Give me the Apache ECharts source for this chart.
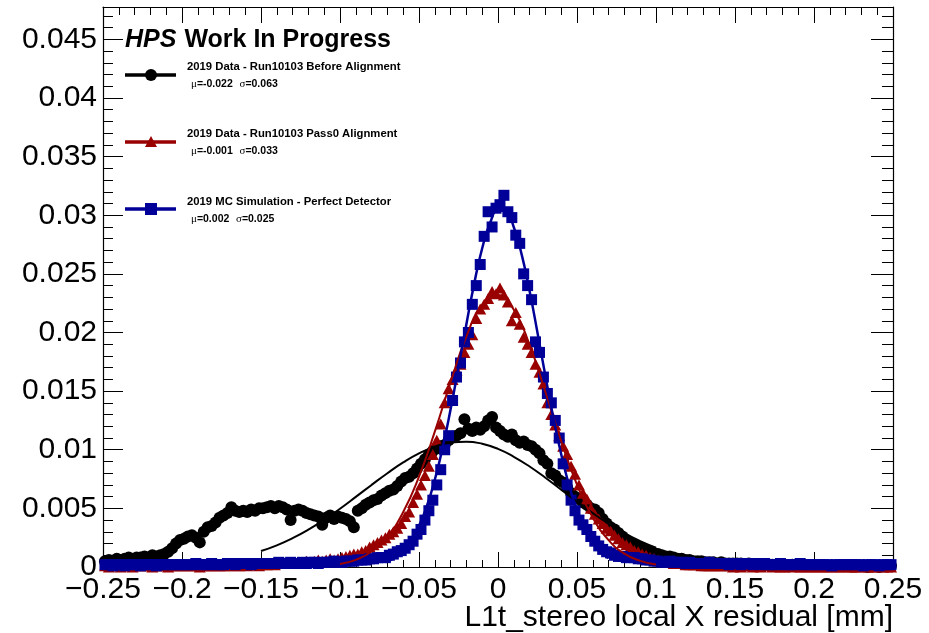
<!DOCTYPE html>
<html>
<head>
<meta charset="utf-8">
<title>L1t_stereo local X residual</title>
<script src="https://cdn.jsdelivr.net/npm/echarts@6/dist/echarts.min.js"></script>
<style>
  html, body { margin: 0; padding: 0; background: #fff; }
  #chart { width: 929px; height: 633px; }
</style>
</head>
<body>
<div id="chart"></div>
<script>
// Histogram binning: 200 bins over [-0.25, 0.25] mm
const X_MIN = -0.25;
const X_MAX = 0.25;
const BIN_WIDTH = 0.0025;

// Normalised residual distributions, one value per bin
const beforeAlignment = [
  0.0005, 0.0006, 0.0005, 0.0007, 0.0006, 0.0007, 0.0008, 0.0007, 0.0008, 0.0008,
  0.0009, 0.0008, 0.0010, 0.0009, 0.0010, 0.0011, 0.0013, 0.0016, 0.0020, 0.0023,
  0.0024, 0.0026, 0.0027, 0.0025, 0.0021, 0.0030, 0.0034, 0.0035, 0.0038, 0.0042,
  0.0044, 0.0046, 0.0051, 0.0048, 0.0047, 0.0048, 0.0047, 0.0049, 0.0048, 0.0050,
  0.0050, 0.0051, 0.0052, 0.0050, 0.0052, 0.0051, 0.0049, 0.0040, 0.0048, 0.0049,
  0.0048, 0.0046, 0.0045, 0.0044, 0.0043, 0.0036, 0.0042, 0.0044, 0.0041, 0.0043,
  0.0042, 0.0041, 0.0039, 0.0034, 0.0048, 0.0050, 0.0053, 0.0055, 0.0057, 0.0058,
  0.0061, 0.0063, 0.0065, 0.0066, 0.0069, 0.0073, 0.0076, 0.0077, 0.0080, 0.0084,
  0.0088, 0.0092, 0.0096, 0.0099, 0.0101, 0.0103, 0.0104, 0.0108, 0.0111, 0.0112,
  0.0114, 0.0126, 0.0118, 0.0116, 0.0119, 0.0117, 0.0120, 0.0125, 0.0128, 0.0119,
  0.0116, 0.0113, 0.0111, 0.0113, 0.0108, 0.0106, 0.0107, 0.0104, 0.0103, 0.0100,
  0.0097, 0.0091, 0.0088, 0.0080, 0.0078, 0.0074, 0.0072, 0.0068, 0.0063, 0.0060,
  0.0058, 0.0055, 0.0053, 0.0050, 0.0049, 0.0046, 0.0041, 0.0037, 0.0034, 0.0032,
  0.0029, 0.0026, 0.0023, 0.0021, 0.0019, 0.0017, 0.0016, 0.0014, 0.0013, 0.0012,
  0.0011, 0.0010, 0.0009, 0.0009, 0.0008, 0.0007, 0.0007, 0.0006, 0.0006, 0.0005,
  0.0005, 0.0005, 0.0004, 0.0004, 0.0004, 0.0003, 0.0004, 0.0003, 0.0003, 0.0003,
  0.0003, 0.0003, 0.0002, 0.0003, 0.0002, 0.0002, 0.0002, 0.0002, 0.0002, 0.0002,
  0.0002, 0.0002, 0.0002, 0.0001, 0.0002, 0.0001, 0.0002, 0.0001, 0.0001, 0.0001,
  0.0001, 0.0001, 0.0001, 0.0001, 0.0001, 0.0001, 0.0001, 0.0001, 0.0001, 0.0001,
  0.0001, 0.0001, 0.0001, 0.0000, 0.0001, 0.0001, 0.0000, 0.0001, 0.0001, 0.0001
];

const pass0Alignment = [
  0.0001, 0.0000, 0.0001, 0.0001, 0.0000, 0.0001, 0.0001, 0.0000, 0.0001, 0.0001,
  0.0001, 0.0001, 0.0000, 0.0001, 0.0001, 0.0001, 0.0000, 0.0001, 0.0001, 0.0001,
  0.0001, 0.0001, 0.0001, 0.0001, 0.0000, 0.0001, 0.0001, 0.0001, 0.0001, 0.0001,
  0.0001, 0.0001, 0.0002, 0.0001, 0.0001, 0.0002, 0.0001, 0.0002, 0.0002, 0.0001,
  0.0002, 0.0002, 0.0003, 0.0002, 0.0003, 0.0003, 0.0004, 0.0003, 0.0004, 0.0004,
  0.0004, 0.0005, 0.0004, 0.0005, 0.0006, 0.0005, 0.0006, 0.0007, 0.0006, 0.0007,
  0.0008, 0.0009, 0.0010, 0.0011, 0.0011, 0.0013, 0.0014, 0.0017, 0.0019, 0.0021,
  0.0023, 0.0025, 0.0028, 0.0030, 0.0033, 0.0037, 0.0043, 0.0047, 0.0055, 0.0062,
  0.0070, 0.0078, 0.0086, 0.0096, 0.0108, 0.0122, 0.0140, 0.0152, 0.0160, 0.0168,
  0.0173, 0.0183, 0.0190, 0.0198, 0.0212, 0.0220, 0.0224, 0.0229, 0.0235, 0.0233,
  0.0238, 0.0232, 0.0226, 0.0210, 0.0217, 0.0207, 0.0196, 0.0190, 0.0183, 0.0173,
  0.0166, 0.0156, 0.0140, 0.0130, 0.0121, 0.0112, 0.0103, 0.0096, 0.0086, 0.0079,
  0.0070, 0.0063, 0.0058, 0.0050, 0.0045, 0.0041, 0.0037, 0.0033, 0.0031, 0.0027,
  0.0024, 0.0021, 0.0019, 0.0017, 0.0014, 0.0013, 0.0011, 0.0010, 0.0008, 0.0007,
  0.0006, 0.0005, 0.0005, 0.0004, 0.0003, 0.0003, 0.0003, 0.0002, 0.0002, 0.0002,
  0.0002, 0.0001, 0.0001, 0.0001, 0.0001, 0.0001, 0.0001, 0.0001, 0.0001, 0.0000,
  0.0001, 0.0000, 0.0001, 0.0001, 0.0000, 0.0001, 0.0000, 0.0001, 0.0001, 0.0000,
  0.0001, 0.0000, 0.0000, 0.0001, 0.0000, 0.0001, 0.0000, 0.0000, 0.0001, 0.0000,
  0.0000, 0.0001, 0.0000, 0.0000, 0.0001, 0.0000, 0.0000, 0.0001, 0.0000, 0.0000,
  0.0000, 0.0000, 0.0001, 0.0000, 0.0000, 0.0000, 0.0001, 0.0000, 0.0000, 0.0000
];

const mcPerfect = [
  0.0002, 0.0002, 0.0001, 0.0002, 0.0002, 0.0001, 0.0002, 0.0002, 0.0002, 0.0001,
  0.0002, 0.0002, 0.0002, 0.0001, 0.0002, 0.0002, 0.0002, 0.0002, 0.0002, 0.0002,
  0.0002, 0.0002, 0.0002, 0.0003, 0.0002, 0.0002, 0.0002, 0.0003, 0.0002, 0.0002,
  0.0002, 0.0003, 0.0003, 0.0002, 0.0003, 0.0003, 0.0003, 0.0002, 0.0003, 0.0003,
  0.0003, 0.0003, 0.0003, 0.0003, 0.0004, 0.0003, 0.0003, 0.0004, 0.0003, 0.0003,
  0.0004, 0.0003, 0.0004, 0.0004, 0.0003, 0.0004, 0.0004, 0.0004, 0.0005, 0.0004,
  0.0004, 0.0005, 0.0005, 0.0005, 0.0006, 0.0006, 0.0006, 0.0007, 0.0007, 0.0008,
  0.0008, 0.0008, 0.0010, 0.0011, 0.0013, 0.0014, 0.0016, 0.0019, 0.0022, 0.0028,
  0.0032, 0.0040, 0.0048, 0.0057, 0.0070, 0.0083, 0.0100, 0.0112, 0.0142, 0.0162,
  0.0174, 0.0192, 0.0200, 0.0224, 0.0240, 0.0258, 0.0282, 0.0303, 0.0290, 0.0306,
  0.0309, 0.0317, 0.0303, 0.0298, 0.0283, 0.0276, 0.0250, 0.0240, 0.0228, 0.0192,
  0.0183, 0.0162, 0.0148, 0.0140, 0.0125, 0.0110, 0.0088, 0.0070, 0.0057, 0.0048,
  0.0040, 0.0036, 0.0032, 0.0026, 0.0022, 0.0018, 0.0015, 0.0013, 0.0012, 0.0010,
  0.0009, 0.0009, 0.0008, 0.0008, 0.0008, 0.0007, 0.0007, 0.0006, 0.0006, 0.0005,
  0.0005, 0.0004, 0.0004, 0.0005, 0.0004, 0.0004, 0.0004, 0.0003, 0.0004, 0.0003,
  0.0003, 0.0003, 0.0003, 0.0004, 0.0003, 0.0003, 0.0003, 0.0003, 0.0002, 0.0003,
  0.0003, 0.0002, 0.0003, 0.0003, 0.0002, 0.0003, 0.0002, 0.0003, 0.0002, 0.0002,
  0.0002, 0.0003, 0.0002, 0.0002, 0.0002, 0.0002, 0.0003, 0.0002, 0.0002, 0.0002,
  0.0002, 0.0002, 0.0002, 0.0002, 0.0001, 0.0002, 0.0002, 0.0002, 0.0002, 0.0002,
  0.0002, 0.0002, 0.0001, 0.0002, 0.0002, 0.0002, 0.0001, 0.0002, 0.0002, 0.0002
];

// Gaussian fit curves, tabulated
const beforeFitX = [-0.15, -0.14, -0.13, -0.12, -0.11, -0.10, -0.09, -0.08, -0.07, -0.06,
  -0.05, -0.04, -0.03, -0.02, -0.01, 0.00, 0.01, 0.02, 0.03, 0.04, 0.05, 0.06, 0.07, 0.08, 0.09, 0.10];
const beforeFitY = [0.00136, 0.00185, 0.00246, 0.00319, 0.00403, 0.00497, 0.00598, 0.00700, 0.00800, 0.00892,
  0.00969, 0.01027, 0.01061, 0.01069, 0.01051, 0.01007, 0.00940, 0.00857, 0.00761, 0.00659,
  0.00557, 0.00459, 0.00369, 0.00288, 0.00220, 0.00164];

const pass0FitX = [-0.10, -0.09, -0.08, -0.07, -0.06, -0.05, -0.04, -0.03, -0.02, -0.01, 0.00,
  0.01, 0.02, 0.03, 0.04, 0.05, 0.06, 0.07, 0.08, 0.09, 0.10];
const pass0FitY = [0.00026, 0.00061, 0.00132, 0.00261, 0.00469, 0.00771, 0.01154, 0.01577, 0.01966, 0.02235,
  0.02319, 0.02194, 0.01895, 0.01493, 0.01073, 0.00703, 0.00420, 0.00229, 0.00114, 0.00052, 0.00021];

const mcFitX = [-0.070, -0.065, -0.060, -0.055, -0.050, -0.045, -0.040, -0.035, -0.030, -0.025,
  -0.020, -0.015, -0.010, -0.005, 0.000, 0.005, 0.010, 0.015, 0.020, 0.025,
  0.030, 0.035, 0.040, 0.045, 0.050, 0.055, 0.060, 0.065, 0.070];
const mcFitY = [0.00048, 0.00084, 0.00141, 0.00227, 0.00351, 0.00521, 0.00744, 0.01020, 0.01345, 0.01703,
  0.02071, 0.02421, 0.02718, 0.02933, 0.03040, 0.03028, 0.02898, 0.02664, 0.02354, 0.01998,
  0.01629, 0.01276, 0.00961, 0.00695, 0.00483, 0.00322, 0.00207, 0.00127, 0.00075];

// Legend text
const seriesNames = [
  '2019 Data - Run10103 Before Alignment',
  '2019 Data - Run10103 Pass0 Alignment',
  '2019 MC Simulation - Perfect Detector'
];
const fitMeans = ['-0.022', '-0.001', '0.002'];
const fitSigmas = ['0.063', '0.033', '0.025'];

// Axis settings
const Y_MAX = 0.04776;
const Y_MAJOR = 0.005;
const Y_MINOR = 0.001;
const X_MAJOR = 0.05;
const X_TITLE = 'L1t_stereo local X residual [mm]';

const COLORS = ['#000000', '#990000', '#000099'];
const FONT = '"Liberation Sans", Arial, Helvetica, sans-serif';

function binned(values) {
  return values.map((v, i) => [X_MIN + (i + 0.5) * BIN_WIDTH, v]);
}
function paired(xs, ys) {
  return xs.map((x, i) => [x, ys[i]]);
}
function tickText(v) {
  const s = String(parseFloat(Number(v).toFixed(4)));
  return s.replace('-', '\u2212');
}

const chart = echarts.init(document.getElementById('chart'), null, { renderer: 'canvas' });

const axisLine = { show: true, onZero: false, lineStyle: { color: '#000', width: 1.2 } };
const noAxisLine = { show: false, onZero: false };
const tickLine = { color: '#000', width: 1 };

const xBase = { type: 'value', min: X_MIN, max: X_MAX, interval: X_MAJOR, splitLine: { show: false } };
const yBase = { type: 'value', min: 0, max: Y_MAX, splitLine: { show: false } };

const option = {
  animation: false,
  backgroundColor: '#ffffff',
  grid: { left: 103, right: 36, top: 7, bottom: 66, containLabel: false },
  xAxis: [
    Object.assign({}, xBase, {
      position: 'bottom',
      axisLine: axisLine,
      axisTick: { show: true, inside: true, length: 15, lineStyle: tickLine },
      minorTick: { show: true, splitNumber: 5, length: 7, lineStyle: tickLine },
      axisLabel: {
        show: true, color: '#000', fontSize: 30, fontFamily: FONT, margin: 8,
        formatter: tickText
      }
    }),
    Object.assign({}, xBase, {
      position: 'top',
      axisLine: axisLine,
      axisTick: { show: true, inside: true, length: 16, lineStyle: tickLine },
      minorTick: { show: true, splitNumber: 5, length: 8, lineStyle: tickLine },
      axisLabel: { show: false }
    })
  ],
  yAxis: [
    Object.assign({}, yBase, {
      position: 'left',
      interval: Y_MAJOR,
      axisLine: axisLine,
      axisTick: { show: true, inside: true, length: 20, lineStyle: tickLine },
      axisLabel: {
        show: true, color: '#000', fontSize: 30, fontFamily: FONT, margin: 6,
        showMaxLabel: false,
        formatter: function (v) {
          const k = v / Y_MAJOR;
          if (Math.abs(k - Math.round(k)) > 1e-6) return '';
          return tickText(v);
        }
      }
    }),
    Object.assign({}, yBase, {
      position: 'left',
      interval: Y_MINOR,
      axisLine: noAxisLine,
      axisTick: { show: true, inside: true, length: 10, lineStyle: tickLine },
      axisLabel: { show: false }
    }),
    Object.assign({}, yBase, {
      position: 'right',
      interval: Y_MAJOR,
      axisLine: axisLine,
      axisTick: { show: true, inside: true, length: 22, lineStyle: tickLine },
      axisLabel: { show: false }
    }),
    Object.assign({}, yBase, {
      position: 'right',
      interval: Y_MINOR,
      axisLine: noAxisLine,
      axisTick: { show: true, inside: true, length: 11, lineStyle: tickLine },
      axisLabel: { show: false }
    })
  ],
  series: [
    {
      name: seriesNames[0], type: 'scatter', xAxisIndex: 0, yAxisIndex: 0,
      data: binned(beforeAlignment), symbol: 'circle', symbolSize: 12,
      itemStyle: { color: COLORS[0], opacity: 1 }, clip: false
    },
    {
      name: seriesNames[0] + ' fit', type: 'line', xAxisIndex: 0, yAxisIndex: 0,
      data: paired(beforeFitX, beforeFitY), smooth: true, showSymbol: false,
      lineStyle: { color: COLORS[0], width: 2 }
    },
    {
      name: seriesNames[1], type: 'scatter', xAxisIndex: 0, yAxisIndex: 0,
      data: binned(pass0Alignment), symbol: 'triangle', symbolSize: [12, 11],
      itemStyle: { color: COLORS[1], opacity: 1 }, clip: false
    },
    {
      name: seriesNames[1] + ' fit', type: 'line', xAxisIndex: 0, yAxisIndex: 0,
      data: paired(pass0FitX, pass0FitY), smooth: true, showSymbol: false,
      lineStyle: { color: COLORS[1], width: 2 }
    },
    {
      name: seriesNames[2], type: 'scatter', xAxisIndex: 0, yAxisIndex: 0,
      data: binned(mcPerfect), symbol: 'rect', symbolSize: 11,
      itemStyle: { color: COLORS[2], opacity: 1 }, clip: false
    },
    {
      name: seriesNames[2] + ' fit', type: 'line', xAxisIndex: 0, yAxisIndex: 0,
      data: paired(mcFitX, mcFitY), smooth: true, showSymbol: false,
      lineStyle: { color: COLORS[2], width: 2.5 }
    }
  ],
  graphic: []
};

// Title, legend and x-axis title drawn as graphic elements
const graphics = [];
graphics.push({
  type: 'text', x: 125, y: 40, z: 100,
  style: {
    text: '{i|HPS}{b|Work In Progress}',
    verticalAlign: 'middle',
    rich: {
      i: { font: 'italic bold 25px ' + FONT, fill: '#000', padding: [0, 8, 0, 0] },
      b: { font: 'bold 25px ' + FONT, fill: '#000' }
    }
  }
});

const legendRows = [75, 142, 209];
const legendLabelDy = [-8, -8, -7];
legendRows.forEach((yRow, k) => {
  graphics.push({
    type: 'line', z: 100,
    shape: { x1: 125, y1: yRow, x2: 176, y2: yRow },
    style: { stroke: COLORS[k], lineWidth: 3.5 }
  });
  if (k === 0) {
    graphics.push({ type: 'circle', z: 101, shape: { cx: 151, cy: yRow, r: 6 }, style: { fill: COLORS[k] } });
  } else if (k === 1) {
    graphics.push({ type: 'polygon', z: 101,
      shape: { points: [[145, yRow + 5], [157, yRow + 5], [151, yRow - 6]] },
      style: { fill: COLORS[k] } });
  } else {
    graphics.push({ type: 'rect', z: 101, shape: { x: 145, y: yRow - 6, width: 12, height: 12 }, style: { fill: COLORS[k] } });
  }
  graphics.push({
    type: 'text', x: 187, y: yRow + legendLabelDy[k], z: 100,
    style: { text: seriesNames[k], font: 'bold 11.3px ' + FONT, fill: '#000', verticalAlign: 'middle' }
  });
  graphics.push({
    type: 'text', x: 191, y: yRow + legendLabelDy[k] + 17, z: 100,
    style: {
      text: '{g|\u03bc}{t|=' + fitMeans[k] + '}  {g|\u03c3}{t|=' + fitSigmas[k] + '}',
      verticalAlign: 'middle',
      rich: {
        g: { font: '11px "Liberation Serif", "DejaVu Serif", serif', fill: '#000' },
        t: { font: 'bold 10.5px ' + FONT, fill: '#000' }
      }
    }
  });
});

graphics.push({
  type: 'text', x: 893, y: 618, z: 100,
  style: { text: X_TITLE, font: '30px ' + FONT, fill: '#000', align: 'right', verticalAlign: 'middle' }
});

option.graphic = graphics;
chart.setOption(option);
</script>
</body>
</html>
